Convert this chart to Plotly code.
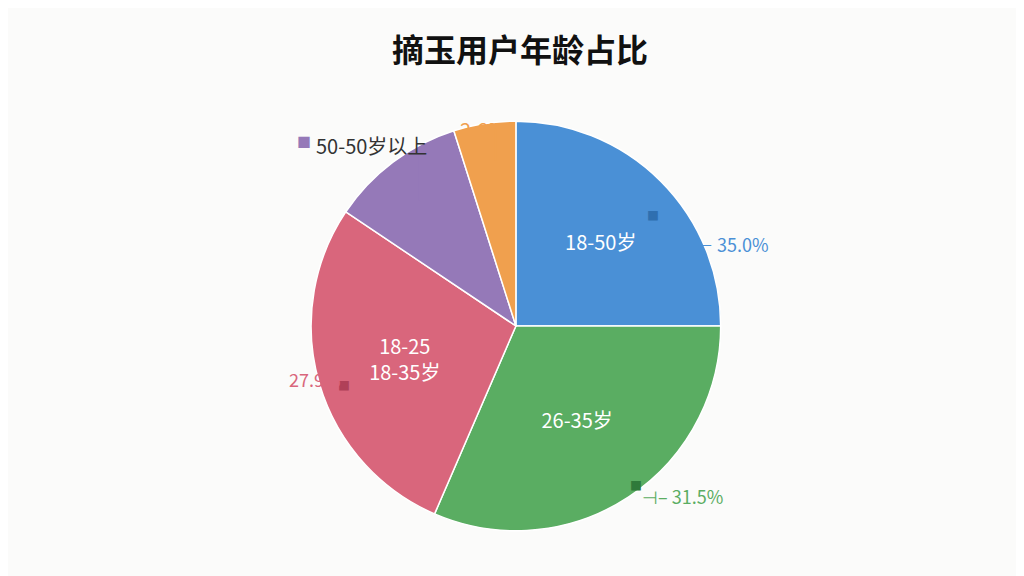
import plotly.graph_objects as go

labels = ["18-50岁", "26-35岁", "18-25<br>18-35岁", "50-50岁以上", "2.6%"]
values = [25.0, 31.5, 27.9, 10.7, 4.9]
inner_text = ["18-50岁", "26-35岁", "18-25<br>18-35岁", "", ""]
colors = ["#4a90d6", "#5aad62", "#d9667c", "#9579b8", "#f0a04e"]

fig = go.Figure()
fig.add_trace(go.Pie(
    labels=labels, values=values, text=inner_text, textinfo="text",
    sort=False, direction="clockwise", rotation=0,
    marker=dict(colors=colors, line=dict(color="white", width=1.5)),
    textfont=dict(size=20, color="white", family="Noto Sans CJK SC"),
    insidetextorientation="horizontal", showlegend=False,
    domain=dict(x=[0.296, 0.696], y=[0.092, 0.804]),
))

# outside labels (paper coords) with small square markers
outside = [
    (0.63, 0.64, "■", "#2f6fb0", 12), (0.745, 0.59, "⊢ 35.0%", "#4a90d6", 18),
    (0.613, 0.152, "■", "#2f7a3a", 12), (0.70, 0.127, "⊣– 31.5%", "#5aad62", 18),
    (0.32, 0.345, "■", "#b04058", 12), (0.272, 0.33, "27.9%", "#d9667c", 18),
    (0.28, 0.79, "■", "#9579b8", 14), (0.355, 0.79, "50-50岁以上", "#333333", 20),
    (0.464, 0.818, "2.6%", "#f0a04e", 20),
]
for x, y, t, c, s in outside:
    fig.add_annotation(x=x, y=y, xref="paper", yref="paper", text=t, showarrow=False,
                       font=dict(size=s, color=c, family="Noto Sans CJK SC"))
# leader lines
fig.add_shape(type="line", xref="paper", yref="paper", x0=0.402, y0=0.755, x1=0.402, y1=0.665,
              line=dict(color="#9579b8", width=1.5))
fig.add_shape(type="line", xref="paper", yref="paper", x0=0.476, y0=0.79, x1=0.476, y1=0.735,
              line=dict(color="#f0a04e", width=1.5))

fig.update_layout(
    width=1024, height=576, margin=dict(l=0, r=0, t=0, b=0),
    paper_bgcolor="#fbfbfa", plot_bgcolor="#fbfbfa",
    title=dict(text="<b>摘玉用户年龄占比</b>", x=0.5, y=0.925, xanchor="center", yanchor="middle",
               font=dict(size=32, color="#111111", family="Noto Sans CJK SC")),
)
fig.write_html("out.html")
